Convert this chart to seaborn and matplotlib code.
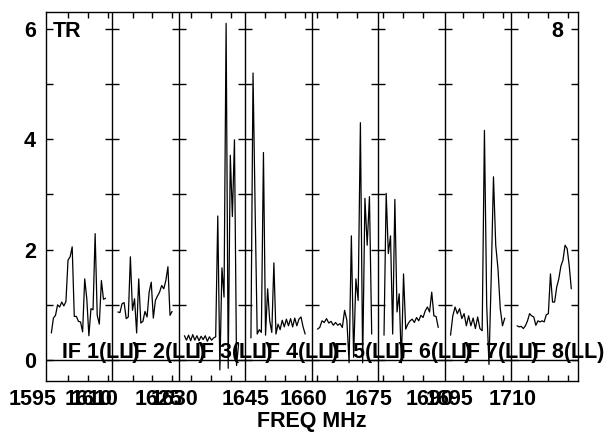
import numpy as np
import pandas as pd
import matplotlib
matplotlib.use("Agg")
import matplotlib.pyplot as plt
import seaborn as sns

# ---------------- data ----------------
if_labels = ["IF 1(LL)", "IF 2(LL)", "IF 3(LL)", "IF 4(LL)",
             "IF 5(LL)", "IF 6(LL)", "IF 7(LL)", "IF 8(LL)"]

if1 = [0.49, 0.76, 0.81, 1.00, 0.96, 1.05, 0.98, 1.06, 1.81, 1.87, 2.05, 0.79, 0.79, 0.70,
       0.69, 0.51, 1.47, 1.11, 0.44, 0.93, 0.91, 2.29, 0.81, 0.65, 1.44, 1.10, 1.12]
if2 = [0.87, 0.86, 1.02, 1.04, 0.75, 0.78, 1.87, 0.90, 1.11, 0.49, 1.47, 0.67, 0.70, 0.88,
       0.78, 1.23, 1.41, 0.76, 1.08, 1.16, 1.23, 1.35, 1.29, 1.44, 1.69, 0.81, 0.88]
if3 = [0.44, 0.36, 0.45, 0.35, 0.46, 0.36, 0.44, 0.35, 0.43, 0.37, 0.44, 0.34, 0.42, 0.36,
       0.40, 0.42, 2.61, -0.18, 1.67, 1.14, 6.10, -0.15, 3.71, 2.60, 3.99, -0.10, 0.30]
if4 = [0.40, 5.20, 2.75, 0.47, 0.55, 0.50, 3.76, 0.45, 1.29, 0.71, 0.50, 1.76, 0.47, 0.65,
       0.55, 0.72, 0.60, 0.74, 0.62, 0.75, 0.60, 0.76, 0.62, 0.74, 0.78, 0.60, 0.47]
if5 = [0.56, 0.59, 0.71, 0.68, 0.75, 0.67, 0.70, 0.63, 0.68, 0.63, 0.66, 0.59, 0.90, 0.72,
       -0.05, 2.25, 0.05, 1.47, 1.08, 4.30, -0.05, 2.93, 2.08, 2.96, 0.47]
if6 = [0.45, 3.02, 1.93, 2.25, 0.47, 2.91, 0.87, 1.20, -0.05, 1.56, 0.56, 0.65, 0.71, 0.74,
       0.68, 0.77, 0.71, 0.81, 0.77, 0.89, 0.96, 0.87, 1.23, 0.80, 0.79, 0.59]
if7 = [0.45, 0.80, 0.96, 0.84, 0.93, 0.75, 0.84, 0.62, 0.80, 0.62, 0.76, 0.57, 0.78, 0.57,
       0.53, 4.16, 1.00, -0.08, 1.50, 3.32, 2.08, 1.65, 0.93, 0.62, 0.76]
if8 = [0.62, 0.60, 0.61, 0.57, 0.62, 0.71, 0.84, 0.80, 0.78, 0.63, 0.71, 0.69, 0.71, 0.69,
       0.82, 0.84, 1.56, 1.05, 1.05, 1.32, 1.47, 1.70, 1.81, 2.08, 2.02, 1.71, 1.29]
spectra = [if1, if2, if3, if4, if5, if6, if7, if8]

# frequency tick labels (panel coordinates: IF n spans [n-1, n])
freq_labels = ["1595", "1610", "1610", "1625", "1630", "1645", "1660",
               "1675", "1690", "1695", "1710"]
freq_label_pos = [-0.19, 0.64, 0.73, 1.69, 1.94, 3.0, 3.87, 4.86, 5.77, 6.07, 7.02]

# 5 MHz ticks inside each panel (fraction of panel width)
panel_tick_offsets = [[0.34, 0.64, 0.94], [0.305, 0.605, 0.905], [0.186, 0.487, 0.787],
                      [0.29, 0.59, 0.89], [0.083, 0.383, 0.683], [0.065, 0.365, 0.665],
                      [0.275, 0.575, 0.876], [0.245, 0.545, 0.846]]

# ---------------- build long table ----------------
rows = []
for i, vals in enumerate(spectra):
    xs = i + np.linspace(0.085, 0.90, len(vals))
    for x, v in zip(xs, vals):
        rows.append({"IF": if_labels[i], "x": x, "y": v})
df = pd.DataFrame(rows)

# ---------------- figure ----------------
sns.set_style("white")
plt.rcParams["font.family"] = ["Liberation Sans", "DejaVu Sans"]
plt.rcParams["font.weight"] = "bold"
for k in ("text.color", "axes.labelcolor", "xtick.color", "ytick.color", "axes.edgecolor"):
    plt.rcParams[k] = "black"
FS = 15.5

fig = plt.figure(figsize=(6.14, 4.34), dpi=100)
ax = fig.add_axes([0.0744, 0.1228, 0.8669, 0.8488])

sns.lineplot(data=df, x="x", y="y", units="IF", estimator=None, color="black",
             linewidth=0.9, ax=ax, legend=False)

ax.set_xlim(0, 8)
ax.set_ylim(-0.375, 6.30)

for s in ax.spines.values():
    s.set_color("black")
    s.set_linewidth(1.0)

# panel separators with their own y ticks
for i in range(1, 8):
    ax.axvline(i, color="black", lw=1.0)
    ax.hlines(range(0, 7), i - 0.105, i + 0.105, color="black", lw=1.0)
ax.axhline(0, color="black", lw=1.0)

# x ticks
xt = [i + o for i, offs in enumerate(panel_tick_offsets) for o in offs]
ax.set_xticks(xt)
ax.set_xticklabels([])
ax.tick_params(axis="x", which="major", direction="in", top=True, bottom=True,
               length=4.5, width=1.0, color="black")

# y ticks
ax.set_yticks([0, 2, 4, 6])
ax.set_yticks([1, 3, 5], minor=True)
ax.tick_params(axis="y", which="both", direction="in", left=True, right=True,
               length=5.0, width=1.0, color="black", labelsize=FS, pad=7,
               labelcolor="black")
for t in ax.get_yticklabels():
    t.set_fontweight("bold")

ax.set_ylabel("")

# frequency labels
for pos, lab in zip(freq_label_pos, freq_labels):
    ax.text(pos, -0.052, lab, transform=ax.get_xaxis_transform(), ha="center",
            va="center", fontsize=FS, fontweight="bold", color="black", clip_on=False)

ax.set_xlabel("FREQ MHz", fontsize=FS, fontweight="bold", color="black")
ax.xaxis.set_label_coords(0.5, -0.083)

# IF labels
for i, lab in enumerate(if_labels):
    ax.text(i + 0.24, 0.04, lab, ha="left", va="baseline", fontsize=FS,
            fontweight="bold", color="black", clip_on=False)

ax.text(0.0137, 0.949, "TR", transform=ax.transAxes, ha="left", va="center",
        fontsize=FS, fontweight="bold", color="black")
ax.text(0.972, 0.949, "8", transform=ax.transAxes, ha="right", va="center",
        fontsize=FS, fontweight="bold", color="black")

fig.savefig("out.png", dpi=100)
